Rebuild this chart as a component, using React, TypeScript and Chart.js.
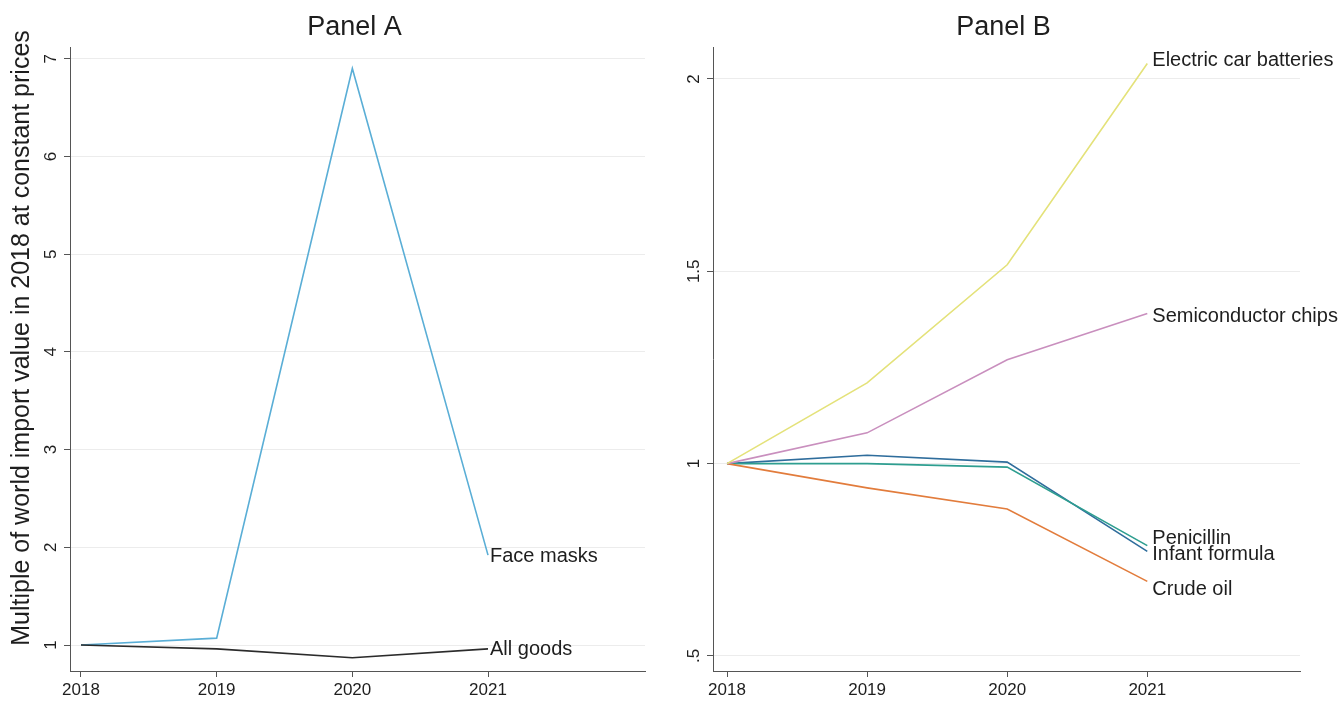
import React, { useEffect, useRef } from 'react';
import { Chart, registerables } from 'chart.js';

Chart.register(...registerables);

// ---------- data ----------
const years = [2018, 2019, 2020, 2021];

// Panel A
const faceMasks = [1.0, 1.07, 6.9, 1.92];
const allGoods = [1.0, 0.96, 0.87, 0.96];
const panelATicks = [1, 2, 3, 4, 5, 6, 7];
const panelATickLabels = ['1', '2', '3', '4', '5', '6', '7'];

// Panel B
const electricCarBatteries = [1.0, 1.21, 1.517, 2.04];
const semiconductorChips = [1.0, 1.08, 1.27, 1.39];
const penicillin = [1.0, 1.0, 0.991, 0.787];
const infantFormula = [1.0, 1.022, 1.004, 0.772];
const crudeOil = [1.0, 0.937, 0.882, 0.694];
const panelBTicks = [0.5, 1, 1.5, 2];
const panelBTickLabels = ['.5', '1', '1.5', '2'];

const FONT = '"Liberation Sans", Arial, Helvetica, sans-serif';
const TEXT = '#1e1e1e';
const AXIS = '#555555';
const GRID = '#ececec';

type Series = { name: string; data: number[]; color: string; dy: number };

const seriesA: Series[] = [
  { name: 'All goods', data: allGoods, color: '#2b2b2b', dy: 1 },
  { name: 'Face masks', data: faceMasks, color: '#5aaed6', dy: 1 },
];

const seriesB: Series[] = [
  { name: 'Electric car batteries', data: electricCarBatteries, color: '#e4e27a', dy: -3 },
  { name: 'Semiconductor chips', data: semiconductorChips, color: '#c98fbe', dy: 3 },
  { name: 'Crude oil', data: crudeOil, color: '#e27c3c', dy: 8 },
  { name: 'Penicillin', data: penicillin, color: '#2e9e90', dy: -7 },
  { name: 'Infant formula', data: infantFormula, color: '#2f6d9c', dy: 3 },
];

const endLabelPlugin = {
  id: 'endLabels',
  afterDatasetsDraw(chart: any, _args: any, opts: any) {
    const ctx = chart.ctx;
    ctx.save();
    ctx.font = `20px ${FONT}`;
    ctx.fillStyle = TEXT;
    ctx.textAlign = 'left';
    ctx.textBaseline = 'middle';
    chart.data.datasets.forEach((ds: any, i: number) => {
      const meta = chart.getDatasetMeta(i);
      const pt = meta.data[meta.data.length - 1];
      if (!pt) return;
      ctx.fillText(ds.label, pt.x + (opts.dx || 0), pt.y + (ds.labelDy || 0));
    });
    ctx.restore();
  },
};

const decorPlugin = {
  id: 'decor',
  afterDraw(chart: any, _args: any, opts: any) {
    const ctx = chart.ctx;
    const area = chart.chartArea;
    const yScale = chart.scales.y;
    ctx.save();
    // rotated y tick labels
    ctx.font = `17px ${FONT}`;
    ctx.fillStyle = TEXT;
    ctx.textAlign = 'center';
    ctx.textBaseline = 'middle';
    (opts.tickValues as number[]).forEach((v, i) => {
      const y = yScale.getPixelForValue(v);
      ctx.save();
      ctx.translate(area.left - 19, y);
      ctx.rotate(-Math.PI / 2);
      ctx.fillText(opts.tickLabels[i], 0, 0);
      ctx.restore();
    });
    // panel title
    ctx.font = `27px ${FONT}`;
    ctx.textAlign = 'center';
    ctx.textBaseline = 'middle';
    ctx.fillText(opts.title, (area.left + area.right) / 2 - 3, 28);
    // y axis title
    if (opts.yTitle) {
      ctx.save();
      ctx.font = `25px ${FONT}`;
      ctx.translate(22, opts.yTitleCenter);
      ctx.rotate(-Math.PI / 2);
      ctx.fillText(opts.yTitle, 0, 0);
      ctx.restore();
    }
    ctx.restore();
  },
};

function makeConfig(
  series: Series[],
  xMin: number,
  xMax: number,
  yMin: number,
  yMax: number,
  tickValues: number[],
  tickLabels: string[],
  yWidth: number,
  padRight: number,
  title: string,
  yTitle: string | null,
  labelDx: number
): any {
  return {
    type: 'line',
    data: {
      datasets: series.map((s) => ({
        label: s.name,
        labelDy: s.dy,
        data: years.map((x, i) => ({ x, y: s.data[i] })),
        borderColor: s.color,
        borderWidth: 1.6,
        pointRadius: 0,
        tension: 0,
        fill: false,
      })),
    },
    options: {
      responsive: false,
      animation: false,
      layout: { padding: { left: 0, right: padRight, top: 47, bottom: 0 } },
      plugins: {
        legend: { display: false },
        tooltip: { enabled: false },
        title: { display: false },
        decor: { tickValues, tickLabels, title, yTitle, yTitleCenter: 338 },
        endLabels: { dx: labelDx },
      },
      scales: {
        x: {
          type: 'linear',
          min: xMin,
          max: xMax,
          afterBuildTicks: (scale: any) => {
            scale.ticks = years.map((v) => ({ value: v }));
          },
          afterFit: (scale: any) => {
            scale.height = 31;
          },
          ticks: {
            autoSkip: false,
            maxRotation: 0,
            minRotation: 0,
            color: TEXT,
            font: { size: 17, family: FONT },
            padding: 3,
            callback: (v: any) => String(v),
          },
          grid: {
            drawOnChartArea: false,
            drawTicks: true,
            tickLength: 6,
            tickColor: AXIS,
            tickWidth: 1,
          },
          border: { display: true, color: AXIS, width: 1 },
        },
        y: {
          type: 'linear',
          min: yMin,
          max: yMax,
          afterBuildTicks: (scale: any) => {
            scale.ticks = tickValues.map((v) => ({ value: v }));
          },
          afterFit: (scale: any) => {
            scale.width = yWidth;
          },
          ticks: { display: false },
          grid: {
            drawOnChartArea: true,
            color: GRID,
            lineWidth: 1,
            drawTicks: true,
            tickLength: 6,
            tickColor: AXIS,
            tickWidth: 1,
          },
          border: { display: true, color: AXIS, width: 1 },
        },
      },
    },
    plugins: [endLabelPlugin, decorPlugin],
  };
}

function Panel({ config }: { config: any }) {
  const ref = useRef<HTMLCanvasElement | null>(null);
  useEffect(() => {
    if (!ref.current) return;
    const chart = new Chart(ref.current, config);
    return () => chart.destroy();
  }, [config]);
  return <canvas ref={ref} width={670} height={702} style={{ display: 'block', width: 670, height: 702 }} />;
}

const configA = makeConfig(
  seriesA,
  2017.919,
  2022.157,
  0.734,
  7.12,
  panelATicks,
  panelATickLabels,
  70,
  25,
  'Panel A',
  'Multiple of world import value in 2018 at constant prices',
  2
);
const configB = makeConfig(
  seriesB,
  2017.9,
  2022.09,
  0.461,
  2.083,
  panelBTicks,
  panelBTickLabels,
  43,
  40,
  'Panel B',
  null,
  5
);

export default function App() {
  return (
    <div
      style={{
        position: 'fixed',
        left: 0,
        top: 0,
        width: 1340,
        height: 702,
        background: '#ffffff',
        display: 'flex',
        flexDirection: 'row',
      }}
    >
      <Panel config={configA} />
      <Panel config={configB} />
    </div>
  );
}
